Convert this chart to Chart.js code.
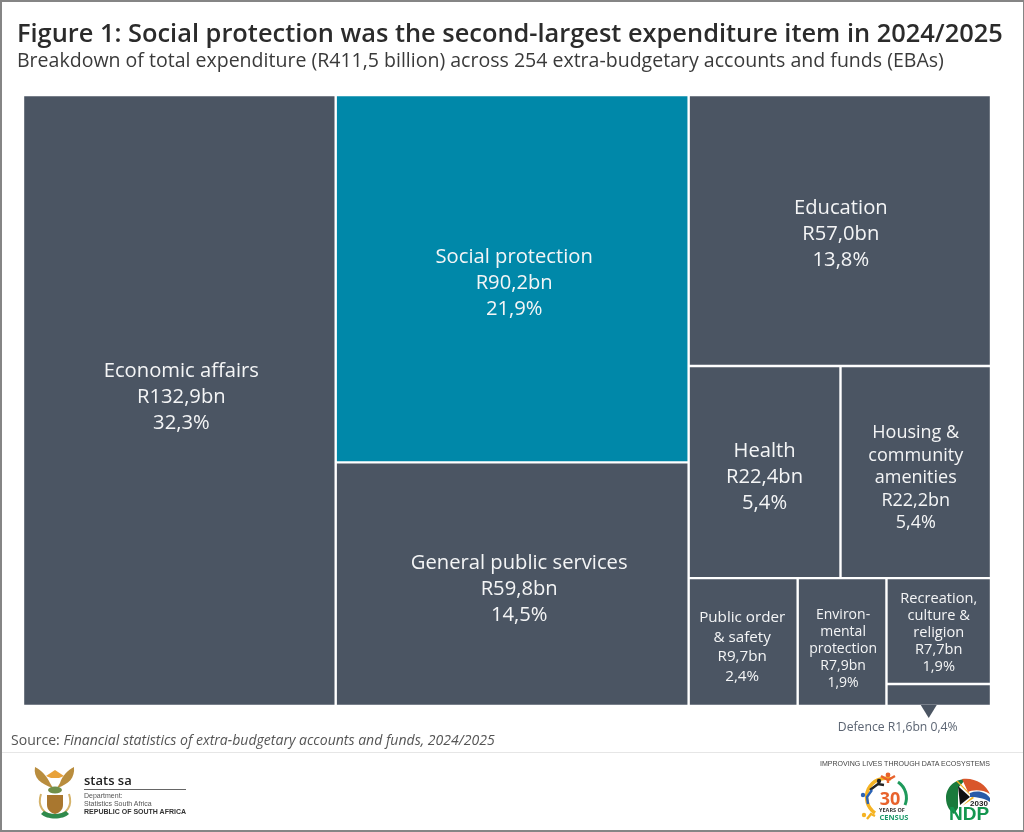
<!DOCTYPE html>
<html>

<head>
    <title>Figure 1: Social protection</title>
    <script src="https://cdn.jsdelivr.net/npm/chart.js"></script>
    <style>
        html, body { margin: 0; padding: 0; background: #fff; }
        #page { position: relative; width: 1024px; height: 832px; overflow: hidden; font-family: "Open Sans", sans-serif; }
        #page div { position: absolute; white-space: nowrap; }
        canvas { position: absolute; left: 0; top: 0; }
        #frame { left: 0; top: 0; right: 0; bottom: 0; border: solid #858585; border-width: 2px 1px 2px 2px; }
        #title { left: 17px; top: 15px; font-size: 25.4px; line-height: 34px; font-weight: 600; color: #2b2b2b; }
        #subtitle { left: 17px; top: 47px; font-size: 19.55px; line-height: 26px; color: #3a3a3a; }
        #source { left: 11px; top: 730px; font-size: 14.05px; line-height: 20px; color: #555; }
        #rule { left: 2px; right: 1px; top: 752px; height: 1px; background: #e6e6e6; }
        #statsName { left: 84px; top: 771px; font: 600 13px/18px "Open Sans", sans-serif; color: #222; }
        #statsRule { left: 84px; top: 789px; width: 102px; height: 1px; background: #666; }
        .dept { left: 84px; font: 7px/9px "Liberation Sans", sans-serif; color: #555; }
        #motto { left: 820px; top: 759px; font: 7.05px/10px "Liberation Sans", sans-serif; color: #444; }
        svg { position: absolute; }
    </style>
</head>

<body>
    <div id="page">
        <canvas id="treemap" width="1024" height="832"></canvas>
        <div id="frame"></div>
        <div id="title">Figure 1: Social protection was the second-largest expenditure item in 2024/2025</div>
        <div id="subtitle">Breakdown of total expenditure (R411,5 billion) across 254 extra-budgetary accounts and funds (EBAs)</div>
        <div id="source">Source: <i>Financial statistics of extra-budgetary accounts and funds, 2024/2025</i></div>
        <div id="rule"></div>

        <!-- coat of arms, rough -->
        <svg style="left:33px;top:764px" width="44" height="58" viewBox="0 0 44 58">
            <path d="M20 24 C8 20 0 14 2 3 C8 6 14 12 17 19Z" fill="#b98d3e" />
            <path d="M24 24 C36 20 42 14 41 3 C35 6 29 12 27 19Z" fill="#b98d3e" />
            <path d="M13 12 L22 6 L31 12 L26 14 L18 14Z" fill="#e8a23a" />
            <ellipse cx="22" cy="26" rx="7" ry="3.5" fill="#6f8f4a" />
            <path d="M8 30 C4 42 10 50 22 52 C34 50 40 42 36 30" fill="none" stroke="#d5b36a" stroke-width="2" />
            <path d="M14 31 H30 V41 C30 46 26 49 22 50 C18 49 14 46 14 41Z" fill="#a9772f" />
            <path d="M8 50 C14 56 30 56 36 50 L33 47 C27 51 17 51 11 47Z" fill="#2f8a4c" />
        </svg>
        <div id="statsName">stats sa</div>
        <div id="statsRule"></div>
        <div class="dept" style="top:791px">Department:</div>
        <div class="dept" style="top:799px">Statistics South Africa</div>
        <div class="dept" style="top:807px;font-weight:bold;color:#333">REPUBLIC OF SOUTH AFRICA</div>

        <div id="motto">IMPROVING LIVES THROUGH DATA ECOSYSTEMS</div>

        <!-- census logo, rough -->
        <svg style="left:858px;top:772px" width="54" height="50" viewBox="0 0 54 50">
            <path d="M17 41 A19 19 0 0 1 33 7" fill="none" stroke="#f5b323" stroke-width="3.5" />
            <path d="M40 10 A19 19 0 0 1 47 33" fill="none" stroke="#1e9a5b" stroke-width="3" />
            <circle cx="30" cy="3" r="2.4" fill="#e8622c" />
            <path d="M23 4 L30 8 L37 4 M30 7 V11" fill="none" stroke="#e8622c" stroke-width="2.4" />
            <circle cx="21" cy="9" r="2.2" fill="#222" />
            <path d="M12 18 L20 12 L26 13" fill="none" stroke="#222" stroke-width="2.4" />
            <circle cx="5" cy="23" r="2.2" fill="#2a62b5" />
            <path d="M14 18 L9 25 L10 32" fill="none" stroke="#2a62b5" stroke-width="2.4" />
            <circle cx="6" cy="43" r="2.2" fill="#f5b323" />
            <path d="M9 47 L13 42 L17 44" fill="none" stroke="#f5b323" stroke-width="2.4" />
            <text x="32" y="33" text-anchor="middle" font-family="Open Sans" font-weight="700" font-size="18" fill="#e8622c">30</text>
            <text x="34" y="40" text-anchor="middle" font-family="Open Sans" font-weight="700" font-size="5.5" fill="#333">YEARS OF</text>
            <text x="36" y="48" text-anchor="middle" font-family="Open Sans" font-weight="700" font-size="7.5" fill="#1e9a6b">CENSUS</text>
        </svg>

        <!-- ndp logo, rough -->
        <svg style="left:944px;top:778px" width="48" height="44" viewBox="0 0 48 44">
            <path d="M22 1 C10 1 2 10 2 20 C2 28 6 33 10 36 L14 30 L14 10 Z" fill="#1a7a3c" />
            <path d="M14 8 L26 19 L16 27 Z" fill="#111" />
            <path d="M12 3 L28 19 L18 28 L30 20 L14 3Z" fill="#f2b01e" />
            <path d="M18 1 C30 -1 42 6 46 16 C38 11 28 12 24 14 Z" fill="#d9562b" />
            <path d="M26 15 C34 12 42 14 46 20 L46 24 C38 19 30 19 26 19Z" fill="#2a5aa8" />
            <text x="35" y="28" text-anchor="middle" font-family="Liberation Sans" font-weight="700" font-size="8" fill="#222">2030</text>
            <text x="25" y="42" text-anchor="middle" font-family="Liberation Sans" font-weight="700" font-size="19" fill="#14964f">NDP</text>
        </svg>
    </div>

    <script>
        const categories = ['Economic affairs', 'Social protection', 'General public services', 'Education', 'Health',
            'Housing & community amenities', 'Public order & safety', 'Environ-mental protection',
            'Recreation, culture & religion', 'Defence'];
        const amountsBn = [132.9, 90.2, 59.8, 57.0, 22.4, 22.2, 9.7, 7.9, 7.7, 1.6];
        const sharesPct = [32.3, 21.9, 14.5, 13.8, 5.4, 5.4, 2.4, 1.9, 1.9, 0.4];

        // how the cells nest: depth alternates between columns and rows, numbers index into categories
        const nesting = [0, [1, 2], [3, [4, 5], [6, 7, [8, 9]]]];

        // label look per cell, same order as categories
        const wrappedNames = [
            ['Economic affairs'], ['Social protection'], ['General public services'], ['Education'], ['Health'],
            ['Housing &', 'community', 'amenities'], ['Public order', '& safety'], ['Environ-', 'mental', 'protection'],
            ['Recreation,', 'culture &', 'religion'], []
        ];
        const fontSizes = [20.2, 20.2, 20.2, 20.2, 20.2, 18, 15.2, 14, 14.6, 0];
        const lineHeights = [26, 26, 26, 26, 26, 22.5, 19.5, 17, 17, 0];
        const labelShiftY = [-3, 5, 5, 4, 5, 6, 5, 7, 2, 0];
        const labelShiftX = [2, 2, 7, 1, 0, 0, -1, 1, 0, 0];

        const slate = '#4b5563';
        const teal = '#0088a9';
        const cellColors = categories.map((c, i) => i === 1 ? teal : slate);

        function bn(v) { return 'R' + v.toFixed(1).replace('.', ',') + 'bn'; }
        function pct(v) { return v.toFixed(1).replace('.', ',') + '%'; }

        function weight(node) {
            return Array.isArray(node) ? node.reduce((s, n) => s + weight(n), 0) : amountsBn[node];
        }

        // slice and dice the unit square by value
        function layout(node, x0, y0, x1, y1, across, out) {
            if (!Array.isArray(node)) {
                out[node] = { x: (x0 + x1) / 2, y: (y0 + y1) / 2, x0, y0, x1, y1 };
                return out;
            }
            const total = weight(node);
            let done = 0;
            node.forEach(child => {
                const a = done / total;
                done += weight(child);
                const b = done / total;
                if (across) layout(child, x0 + (x1 - x0) * a, y0, x0 + (x1 - x0) * b, y1, false, out);
                else layout(child, x0, y0 + (y1 - y0) * a, x1, y0 + (y1 - y0) * b, true, out);
            });
            return out;
        }

        class TreemapController extends Chart.DatasetController {
            update(mode) {
                const rects = this._cachedMeta.data;
                this.updateElements(rects, 0, rects.length, mode);
            }
            updateElements(rects, start, count, mode) {
                const { xScale, yScale } = this._cachedMeta;
                const data = this.getDataset().data;
                for (let i = start; i < start + count; i++) {
                    const d = data[i];
                    const left = xScale.getPixelForValue(d.x0);
                    const right = xScale.getPixelForValue(d.x1);
                    this.updateElement(rects[i], i, {
                        x: (left + right) / 2,
                        y: yScale.getPixelForValue(d.y0),
                        base: yScale.getPixelForValue(d.y1),
                        width: right - left,
                        height: yScale.getPixelForValue(d.y1) - yScale.getPixelForValue(d.y0),
                        horizontal: false,
                        inflateAmount: 0,
                        enableBorderRadius: false,
                        borderSkipped: { top: false, right: false, bottom: false, left: false },
                        options: this.resolveDataElementOptions(i, mode)
                    }, mode);
                }
            }
        }
        TreemapController.id = 'treemap';
        TreemapController.defaults = { dataElementType: 'bar' };
        Chart.register(TreemapController);

        const cellLabels = {
            id: 'cellLabels',
            afterDatasetsDraw(chart) {
                const ctx = chart.ctx;
                const rects = chart.getDatasetMeta(0).data;
                ctx.save();
                ctx.textAlign = 'center';
                ctx.textBaseline = 'middle';
                ctx.fillStyle = '#f4f5f6';
                categories.forEach((c, i) => {
                    if (!fontSizes[i]) return;
                    const lines = wrappedNames[i].concat([bn(amountsBn[i]), pct(sharesPct[i])]);
                    const r = rects[i];
                    const mid = (r.y + r.base) / 2 + labelShiftY[i];
                    ctx.font = fontSizes[i] + 'px "Open Sans"';
                    lines.forEach((t, k) => {
                        ctx.fillText(t, r.x + labelShiftX[i], mid + (k - (lines.length - 1) / 2) * lineHeights[i]);
                    });
                });

                // callout for the cell too small to hold its label
                const d = rects[9];
                ctx.fillStyle = slate;
                ctx.beginPath();
                ctx.moveTo(d.x - 18, d.base - 1);
                ctx.lineTo(d.x - 2, d.base - 1);
                ctx.lineTo(d.x - 10, d.base + 12);
                ctx.closePath();
                ctx.fill();
                ctx.fillStyle = '#5c6573';
                ctx.font = '12.2px "Open Sans"';
                ctx.fillText(categories[9] + ' ' + bn(amountsBn[9]) + ' ' + pct(sharesPct[9]), d.x - 41, d.base + 22);
                ctx.restore();
            }
        };

        new Chart(document.getElementById('treemap').getContext('2d'), {
            type: 'treemap',
            data: {
                labels: categories,
                datasets: [{
                    data: layout(nesting, 0, 0, 1, 1, true, []),
                    backgroundColor: cellColors,
                    borderColor: '#ffffff',
                    borderWidth: 1.2,
                    borderSkipped: false
                }]
            },
            options: {
                responsive: false,
                animation: false,
                events: [],
                layout: { padding: { left: 23, right: 33, top: 95, bottom: 126 } },
                scales: {
                    x: { type: 'linear', display: false, min: 0, max: 1 },
                    y: { type: 'linear', display: false, min: 0, max: 1, reverse: true }
                },
                plugins: { legend: { display: false }, tooltip: { enabled: false } }
            },
            plugins: [cellLabels]
        });
    </script>
</body>

</html>
